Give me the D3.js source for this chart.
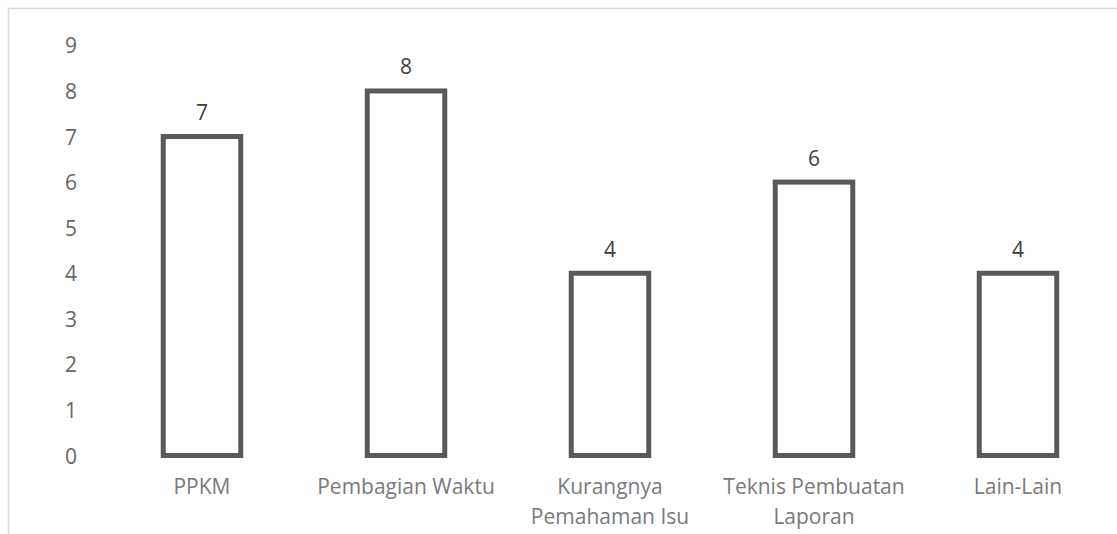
<!DOCTYPE html>
<html>
<head>
<meta charset="utf-8">
<script src="https://cdn.jsdelivr.net/npm/d3@7"></script>
<style>
    body { margin: 0; background: #fff; }
    svg { display: block; font-family: "Open Sans", sans-serif; }
</style>
</head>
<body>
<script>
const categories = [["PPKM"], ["Pembagian Waktu"], ["Kurangnya", "Pemahaman Isu"], ["Teknis Pembuatan", "Laporan"], ["Lain-Lain"]]
const values = [7, 8, 4, 6, 4]
const yTicks = [0, 1, 2, 3, 4, 5, 6, 7, 8, 9]

const width = 1117, height = 534
const margin = {top: 45.4, bottom: 534 - 455.5, left: 100, right: -3}

const svg = d3.select("body").append("svg")
    .attr("width", width)
    .attr("height", height)

// chart border (cropped at right and bottom)
svg.append("rect")
    .attr("x", 8.5).attr("y", 8.5)
    .attr("width", width + 20).attr("height", height + 20)
    .attr("fill", "none")
    .attr("stroke", "#d9d9d9")
    .attr("stroke-width", 1.5)

const x = d3.scaleBand()
    .domain(d3.range(values.length))
    .range([margin.left, width - margin.right])
    .paddingInner(0.62)
    .paddingOuter(0.31)

const y = d3.scaleLinear()
    .domain([0, 9])
    .range([height - margin.bottom, margin.top])

// y axis labels
const yAxis = svg.append("g")
    .attr("transform", `translate(77,0)`)
    .call(d3.axisLeft(y).tickValues(yTicks).tickSize(0).tickPadding(0))
yAxis.select(".domain").remove()
yAxis.selectAll("text")
    .attr("font-family", "Open Sans")
    .attr("font-size", 21)
    .attr("fill", "#666")
    .attr("dy", "0.36em")

// bars
svg.append("g")
    .selectAll("rect")
    .data(values)
    .join("rect")
    .attr("x", (d, i) => x(i))
    .attr("y", d => y(d))
    .attr("width", x.bandwidth())
    .attr("height", d => y(0) - y(d))
    .attr("fill", "none")
    .attr("stroke", "#595959")
    .attr("stroke-width", 5)

// data labels
svg.append("g")
    .selectAll("text")
    .data(values)
    .join("text")
    .attr("x", (d, i) => x(i) + x.bandwidth() / 2)
    .attr("y", d => y(d) - 16.5)
    .attr("text-anchor", "middle")
    .attr("font-size", 21)
    .attr("fill", "#404040")
    .text(d => d)

// category labels
const cat = svg.append("g")
    .selectAll("text")
    .data(categories)
    .join("text")
    .attr("x", (d, i) => x(i) + x.bandwidth() / 2)
    .attr("y", y(0) + 38.5)
    .attr("text-anchor", "middle")
    .attr("font-size", 21)
    .attr("fill", "#7a7a7a")

cat.selectAll("tspan")
    .data((d, i) => d.map(t => ({t, i})))
    .join("tspan")
    .attr("x", d => x(d.i) + x.bandwidth() / 2)
    .attr("dy", (d, j) => j === 0 ? 0 : 30)
    .text(d => d.t)
</script>
</body>
</html>
